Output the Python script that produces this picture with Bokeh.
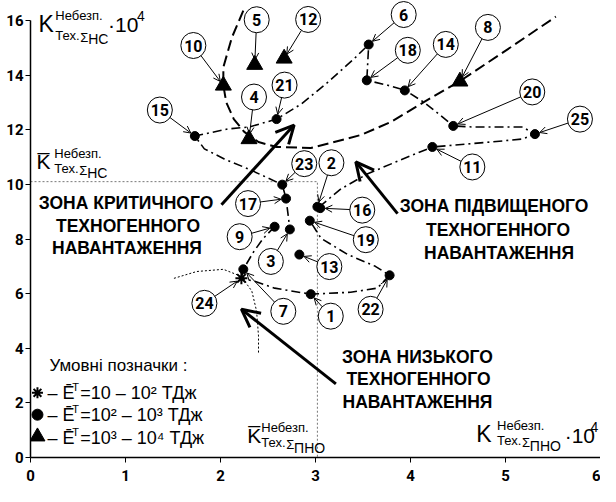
import math
from bokeh.plotting import figure
from bokeh.models import Range1d, Arrow, OpenHead, ColumnDataSource, FixedTicker
from bokeh.embed import file_html
from bokeh.resources import INLINE
from bokeh.core.properties import value

# ---------------- data ----------------
point_ids = [str(i) for i in range(1, 26)]
k_pno = [2.95, 3.02, 2.73, 2.30, 2.36, 3.56, 2.24, 4.52, 2.57, 2.03,
         4.23, 2.67, 2.83, 3.94, 1.73, 3.05, 2.69, 3.54, 2.94, 4.45,
         2.59, 3.78, 2.65, 2.22, 5.31]
k_nc = [5.98, 9.18, 8.35, 11.66, 14.38, 15.12, 6.89, 13.77, 8.45, 13.62,
        11.37, 14.61, 7.43, 13.44, 11.77, 9.13, 9.48, 13.81, 8.67, 12.14,
        12.39, 6.67, 9.99, 6.56, 11.84]
energy_class = ["mid", "mid", "mid", "high", "high", "mid", "mid", "high", "mid", "high",
                "mid", "high", "mid", "mid", "mid", "mid", "mid", "mid", "mid", "mid",
                "mid", "mid", "mid", "low", "mid"]

k_pno_mean = 3.02
k_nc_mean = 10.1

x_ticks = [0, 1, 2, 3, 4, 5, 6]
y_ticks = [0, 2, 4, 6, 8, 10, 12, 14, 16]

# trajectory (dash-dot loop); NaN = gap
nan = float("nan")
loop_x = [3.04, 3.27, 3.55, 3.90, 4.23, 4.84, 5.18, 5.31, 5.18, 4.66, 4.45, 4.31, 4.14, 3.94,
          3.76, 3.54, 3.56, 3.40, 3.13, 2.85, 2.59, 2.30, 2.08, 1.73, 1.83, 2.04, 2.29, 2.65,
          2.69, 2.71, 2.73, nan, 2.57, 2.45, 2.35, 2.24, 2.22, 2.36, 2.57, 2.95, 3.37, 3.65,
          3.78, 3.63, 3.34, 3.06, 2.94]
loop_y = [9.18, 9.84, 10.39, 10.90, 11.37, 11.55, 11.66, 11.84, 12.10, 12.10, 12.14, 12.54, 13.01, 13.45,
          13.63, 13.81, 15.12, 14.58, 13.74, 12.94, 12.39, 12.10, 12.03, 11.77, 11.30, 10.93, 10.57, 9.99,
          9.48, 8.93, 8.35, nan, 8.45, 8.02, 7.54, 6.89, 6.56, 6.45, 6.20, 5.98, 6.05, 6.20,
          6.67, 7.00, 7.43, 8.02, 8.67]

# long-dashed boundary curve
curve_x = [2.24, 2.12, 2.03, 2.03, 2.06, 2.14, 2.25, 2.40, 2.59, 2.95, 3.48, 3.79, 4.14, 4.52, 5.05, 5.53]
curve_y = [16.36, 15.38, 14.29, 13.63, 13.01, 12.39, 11.92, 11.55, 11.37, 11.33, 11.81, 12.28, 13.01, 13.78, 15.01, 16.14]

# dotted arc around point 24
arc_x = [1.51, 1.75, 2.03, 2.22, 2.33, 2.38, 2.40, 2.40]
arc_y = [6.56, 6.81, 6.89, 6.63, 6.09, 5.36, 4.45, 3.79]

# ---------------- layout ----------------
# label-circle offsets from their point, in pixels (right, down)
label_dx = [20, 14, -19, 5, 2, 35, 40, 28, -35, -30, 40, 24, 30, 41, -35, 42, -38, 41, 56, 79, 8, -19, 22, -37, 45]
label_dy = [22, -44, 32, -42, -45, -30, 42, -54, 10, -40, 20, -39, 12, -46, -26, 2, 5, -30, 19, -34, -34, 34, -21, 25, -15]

W, H = 600, 486
BL, BR, BT, BB = 30, 0, 0, 29
frame_w = W - BL - BR
frame_h = H - BT - BB
SX = frame_w / 6.0
SY = (frame_h - 20) / 16.0
Y_TOP = frame_h / SY

FONT_NAME = "Liberation Sans"
FONT = value(FONT_NAME)
FONT_NUM = value("Roboto")


def rx(px):
    return (px - 38) / 95.5


def ry(py):
    return (467 - py) / 27.44


p = figure(width=W, height=H, x_range=Range1d(0, 6), y_range=Range1d(0, Y_TOP),
           output_backend="svg", toolbar_location=None,
           min_border_left=BL, min_border_right=BR, min_border_top=BT, min_border_bottom=BB)
p.outline_line_color = None
p.grid.visible = False
p.background_fill_color = "white"

for ax, ticks, bnds, stand in ((p.xaxis, x_ticks, (0, 6), 7), (p.yaxis, y_ticks, (0, 16), 2)):
    ax.ticker = FixedTicker(ticks=ticks)
    ax.bounds = bnds
    ax.axis_line_width = 1.5
    ax.axis_line_color = "black"
    ax.major_tick_out = 5
    ax.major_tick_in = 0
    ax.major_tick_line_color = "black"
    ax.minor_tick_line_color = None
    ax.major_label_text_font = "Roboto"
    ax.major_label_text_font_style = "bold"
    ax.major_label_text_font_size = "15px"
    ax.major_label_text_color = "black"
    ax.major_label_standoff = stand

# threshold dotted lines
p.line([0, k_pno_mean, k_pno_mean], [k_nc_mean, k_nc_mean, 0], line_color="#777777",
       line_dash="2 2", line_width=1)

# curves
p.line(curve_x, curve_y, line_color="black", line_width=2, line_dash="11 5")
p.line(loop_x, loop_y, line_color="black", line_width=1.6, line_dash="9 4 2 4")
p.line(arc_x, arc_y, line_color="black", line_width=1, line_dash="2 2")

# points
def sel(cls):
    xs = [x for x, c in zip(k_pno, energy_class) if c == cls]
    ys = [y for y, c in zip(k_nc, energy_class) if c == cls]
    return xs, ys

xs, ys = sel("mid")
p.scatter(xs, ys, marker="circle", size=9, fill_color="black", line_color="black")
xs, ys = sel("high")
p.scatter(xs, ys, marker="triangle", size=16, fill_color="black", line_color="black")
xs, ys = sel("low")
p.scatter(xs, ys, marker="asterisk", size=12, line_color="black", line_width=2)

# label circles + arrows
RX, RY = 12.5, 13
lx, ly, xs0, ys0, xe, ye = [], [], [], [], [], []
for x, y, dx, dy in zip(k_pno, k_nc, label_dx, label_dy):
    px, py = x * SX, y * SY
    lpx, lpy = px + dx, py - dy
    vx, vy = px - lpx, py - lpy
    d = math.hypot(vx, vy)
    ux, uy = vx / d, vy / d
    r = 1.0 / math.sqrt((ux / RX) ** 2 + (uy / RY) ** 2)
    lx.append(lpx / SX)
    ly.append(lpy / SY)
    xs0.append((lpx + ux * r) / SX)
    ys0.append((lpy + uy * r) / SY)
    xe.append((px - ux * 5) / SX)
    ye.append((py - uy * 5) / SY)

asrc = ColumnDataSource(dict(xs=xs0, ys=ys0, xe=xe, ye=ye))
p.add_layout(Arrow(end=OpenHead(size=7, line_width=1, line_color="black"),
                   x_start="xs", y_start="ys", x_end="xe", y_end="ye", source=asrc,
                   line_width=1, line_color="black"))

p.ellipse(lx, ly, width=2 * RX, height=2 * RY, width_units="screen", height_units="screen",
          fill_color="white", line_color="black", line_width=1)
p.text(lx, ly, text=point_ids, text_font=FONT_NUM, text_font_style="bold", text_font_size="16px",
       text_align="center", text_baseline="middle", text_color="black")

# zone arrows
zone_arrows = [((230, 213), (303, 133)), ((407, 222), (365, 170)), ((345, 393), (250, 318))]
for (ax0, ay0), (ax1, ay1) in zone_arrows:
    p.add_layout(Arrow(end=OpenHead(size=18, line_width=3, line_color="black"),
                       x_start=rx(ax0), y_start=ry(ay0), x_end=rx(ax1), y_end=ry(ay1),
                       line_width=3, line_color="black"))

# zone texts
zone_lines = [
    ("ЗОНА КРИТИЧНОГО", 134, 211), ("ТЕХНОГЕННОГО", 136, 234), ("НАВАНТАЖЕННЯ", 135, 257),
    ("ЗОНА ПІДВИЩЕНОГО", 504, 214), ("ТЕХНОГЕННОГО", 508, 238), ("НАВАНТАЖЕННЯ", 509, 262),
    ("ЗОНА НИЗЬКОГО", 427, 366), ("ТЕХНОГЕННОГО", 428, 388), ("НАВАНТАЖЕННЯ", 427, 411),
]
p.text([rx(a[1]) for a in zone_lines], [ry(a[2]) for a in zone_lines], text=[a[0] for a in zone_lines],
       text_font=FONT, text_font_style="bold", text_font_size="17.5px",
       text_align="center", text_baseline="middle", text_color="black")

# formula-like texts (text, px, py, size)
pieces = [
    # y axis title
    ("K", 46, 31, 23), ("Небезп.", 63, 23, 13), ("Тех.", 63, 43, 13), ("Σ", 88, 45, 13),
    ("НС", 96, 47, 14), ("·10", 116, 32, 21), ("4", 145, 23, 14),
    # threshold NC
    ("K\u0305", 44, 170, 21), ("Небезп.", 62, 162, 13), ("Тех.", 62, 177, 13), ("Σ", 87, 179, 13),
    ("НС", 95, 181, 14),
    # threshold PNO
    ("K\u0305", 256, 445, 21), ("Небезп.", 270, 437, 13), ("Тех.", 270, 452, 13), ("Σ", 295, 454, 13),
    ("ПНО", 303, 457, 14),
    # x axis title
    ("K", 486, 443, 23), ("Небезп.", 507, 435, 13), ("Тех.", 507, 450, 13), ("Σ", 532, 452, 13),
    ("ПНО", 540, 455, 14), ("·10", 575, 445, 21), ("4", 601, 436, 14),
    # legend
    ("Умовні позначки :", 57, 375, 17),
    ("– Ē", 55, 402, 18), ("T", 80, 396, 11), ("=10 – 10² ТДж", 88, 402, 18),
    ("– Ē", 55, 424, 18), ("T", 80, 418, 11), ("=10² – 10³ ТДж", 88, 424, 18),
    ("– Ē", 55, 447, 18), ("T", 80, 441, 11), ("=10³ – 10⁴ ТДж", 88, 447, 18),
]
for t, px, py, sz in pieces:
    p.text([rx(px)], [ry(py)], text=[t], text_font=FONT, text_font_size=f"{sz}px",
           text_align="left", text_baseline="middle", text_color="black")

# legend markers
p.scatter([rx(45)], [ry(402)], marker="asterisk", size=11, line_color="black", line_width=2)
p.scatter([rx(45)], [ry(424)], marker="circle", size=11, fill_color="black", line_color="black")
p.scatter([rx(45)], [ry(446)], marker="triangle", size=15, fill_color="black", line_color="black")

open("out.html", "w").write(file_html(p, INLINE))
